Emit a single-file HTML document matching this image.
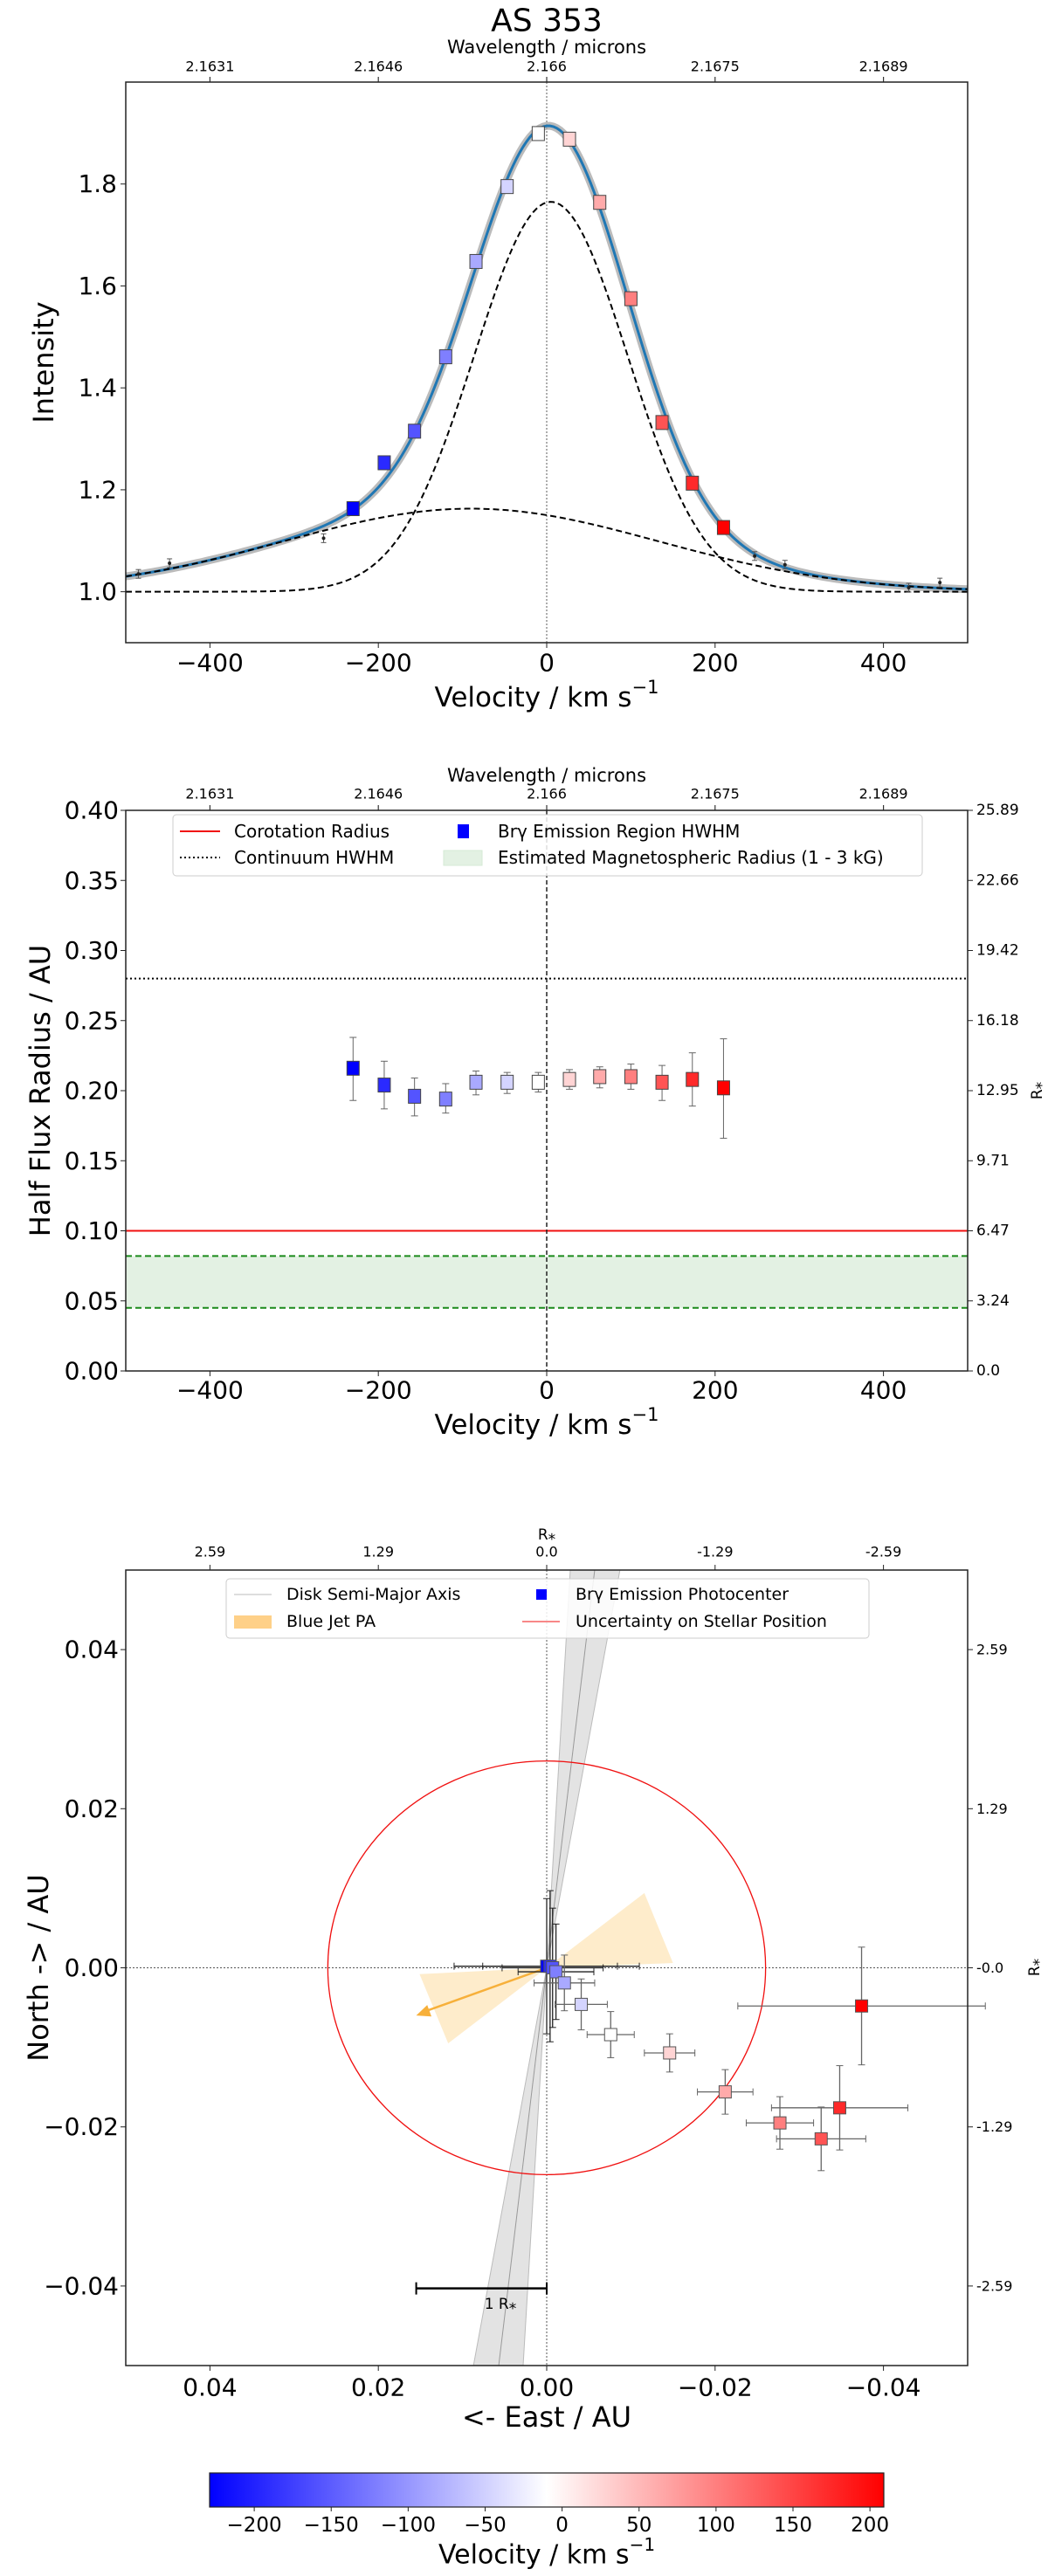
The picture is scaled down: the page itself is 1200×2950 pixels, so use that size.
<!DOCTYPE html>
<html><head><meta charset="utf-8"><title>AS 353</title>
<style>
html,body{margin:0;padding:0;background:#fff;}
svg{display:block;font-family:"DejaVu Sans","Liberation Sans",sans-serif;}
</style></head>
<body>
<svg id="fig" xmlns="http://www.w3.org/2000/svg" width="1200" height="2950" viewBox="0 0 1200 2950">
<rect x="0" y="0" width="1200" height="2950" fill="#fff"/>
</svg>
<script>
// ---------- DATA ----------
const velocities = [-230,-193,-157,-120,-84,-47,-10,27,63,100,137,173,210];
const intensities = [1.163,1.253,1.315,1.461,1.648,1.795,1.899,1.888,1.764,1.575,1.332,1.213,1.126];
const contVel = [-485,-448,-265,247,283,430,467];
const contInt = [1.035,1.056,1.105,1.070,1.053,1.008,1.018];
const narrowGauss = [0.765, 5, 91];      // amplitude, centre, sigma
const broadGauss = [0.163, -90, 223];
const hwhm = [0.216,0.204,0.196,0.194,0.206,0.206,0.206,0.208,0.210,0.210,0.206,0.208,0.202];
const hwhmLo = [0.193,0.187,0.182,0.184,0.197,0.198,0.199,0.201,0.202,0.201,0.193,0.189,0.166];
const hwhmHi = [0.238,0.221,0.209,0.205,0.214,0.213,0.213,0.215,0.217,0.219,0.218,0.227,0.237];
const continuumHWHM = [0.28];
const corotation = [0.10];
const magRadius = [0.045, 0.082];
const eastPos = [0.0,-0.0004,-0.0007,-0.0011,-0.0021,-0.0041,-0.0076,-0.0146,-0.0212,-0.0277,-0.0326,-0.0348,-0.0374];
const northPos = [0.0002,0.0002,0.0,-0.0005,-0.0019,-0.0046,-0.0084,-0.0107,-0.0156,-0.0195,-0.0215,-0.0176,-0.0048];
const eastErr = [0.011,0.008,0.006,0.0045,0.0036,0.0031,0.0028,0.003,0.0033,0.004,0.0053,0.0081,0.0147];
const northErr = [0.0085,0.0095,0.0075,0.006,0.0035,0.0032,0.0029,0.0024,0.0028,0.0033,0.004,0.0053,0.0074];
const stellarUncert = [0.026];
const topWaveTicks = ["2.1631","2.1646","2.166","2.1675","2.1689"];
const velTicks = [-400,-200,0,200,400];
const intTicks = [1.0,1.2,1.4,1.6,1.8];
const radTicks = [0,0.05,0.10,0.15,0.20,0.25,0.30,0.35,0.40];
const rstarTicks = ["0.0","3.24","6.47","9.71","12.95","16.18","19.42","22.66","25.89"];
const posTicks = [0.04,0.02,0.0,-0.02,-0.04];
const posTickLabels = ["0.04","0.02","0.00","\u22120.02","\u22120.04"];
const topRLabels = ["2.59","1.29","0.0","-1.29","-2.59"];
const rightRLabels = ["2.59","1.29","-0.0","-1.29","-2.59"];
const cbTicks = [-200,-150,-100,-50,0,50,100,150,200];
const cbRange = [-229, 209];

// ---------- HELPERS ----------
const NS="http://www.w3.org/2000/svg";
const svg=document.getElementById('fig');
function el(tag,attrs,parent){const e=document.createElementNS(NS,tag);for(const k in attrs)e.setAttribute(k,attrs[k]);(parent||svg).appendChild(e);return e;}
function txt(s,x,y,size,attrs,parent){const t=el('text',Object.assign({x:x,y:y,'font-size':size,'text-anchor':'middle','dominant-baseline':'central',fill:'#000'},attrs||{}),parent);t.textContent=s;return t;}
function cmap(v){let t=(v-cbRange[0])/(cbRange[1]-cbRange[0]);t=Math.max(0,Math.min(1,t));let r,g,b;if(t<0.5){r=g=Math.round(510*t);b=255;}else{r=255;g=b=Math.round(255*(2-2*t));}return `rgb(${r},${g},${b})`;}
const fmt=v=>(v<0?'\u2212':'')+Math.abs(v);

const AX_L=144, AX_R=1108;
const pxV=v=>AX_L+(v+500)*(AX_R-AX_L)/1000;

// ---------- PANEL 1 ----------
const T1=94, B1=736;
const py1=I=>B1-(I-0.9)*(B1-T1)/1.1;
const g1=el('g',{});  
let t=txt('AS 353',626,24,36,{},g1);  
t=txt('Wavelength / microns',626,54,21,{},g1);  
velTicks.forEach((v,i)=>{el('line',{x1:pxV(v),x2:pxV(v),y1:T1,y2:T1-6,stroke:'#333','stroke-width':1.2},g1);txt(topWaveTicks[i],pxV(v),76,16,{},g1);});
el('line',{x1:pxV(0),x2:pxV(0),y1:T1,y2:B1,stroke:'#777','stroke-width':1.2,'stroke-dasharray':'2,2'},g1);
function gauss(p,v){return p[0]*Math.exp(-(v-p[1])*(v-p[1])/(2*p[2]*p[2]));}
let dN='',dB='',dF='';
for(let v=-500;v<=500;v+=4){const x=pxV(v);dN+=(v===-500?'M':'L')+x+','+py1(1+gauss(narrowGauss,v));dB+=(v===-500?'M':'L')+x+','+py1(1+gauss(broadGauss,v));dF+=(v===-500?'M':'L')+x+','+py1(1+gauss(narrowGauss,v)+gauss(broadGauss,v));}
let p=el('path',{d:dF,fill:'none',stroke:'#aaa','stroke-width':9,'stroke-opacity':0.8},g1);  
p=el('path',{d:dF,fill:'none',stroke:'#1f77b4','stroke-width':3},g1);  
p=el('path',{d:dN,fill:'none',stroke:'#000','stroke-width':2,'stroke-dasharray':'7,4'},g1);  
p=el('path',{d:dB,fill:'none',stroke:'#000','stroke-width':2,'stroke-dasharray':'7,4'},g1);  
contVel.forEach((v,i)=>{const x=pxV(v),y=py1(contInt[i]);el('line',{x1:x,x2:x,y1:y-5,y2:y+5,stroke:'#555'},g1);el('line',{x1:x-3,x2:x+3,y1:y-5,y2:y-5,stroke:'#555'},g1);el('line',{x1:x-3,x2:x+3,y1:y+5,y2:y+5,stroke:'#555'},g1);const c=el('circle',{cx:x,cy:y,r:2,fill:'#222'},g1);});
velocities.forEach((v,i)=>{const x=pxV(v),y=py1(intensities[i]);el('line',{x1:x,x2:x,y1:y-8,y2:y+8,stroke:'#555'},g1);const r=el('rect',{x:x-7,y:y-8,width:14,height:16,fill:cmap(v),stroke:'#444','stroke-width':1},g1);});
el('rect',{x:AX_L,y:T1,width:AX_R-AX_L,height:B1-T1,fill:'none',stroke:'#222','stroke-width':1.5},g1);
velTicks.forEach(v=>{el('line',{x1:pxV(v),x2:pxV(v),y1:B1,y2:B1+6,stroke:'#222'},g1);txt(fmt(v),pxV(v),759,28,{},g1);});
intTicks.forEach(I=>{el('line',{x1:AX_L,x2:AX_L-6,y1:py1(I),y2:py1(I),stroke:'#222'},g1);txt(I.toFixed(1),AX_L-10,py1(I),28,{'text-anchor':'end'},g1);});
t=txt('Intensity',0,0,32,{transform:'translate(50,'+((T1+B1)/2)+') rotate(-90)'},g1);  
t=el('text',{x:626,y:799,'font-size':31,'text-anchor':'middle','dominant-baseline':'central'},g1); t.innerHTML='Velocity / km s<tspan dy="-12" font-size="21">\u22121</tspan>';  

// ---------- PANEL 2 ----------
const T2=928, B2=1570;
const py2=r=>B2-r*(B2-T2)/0.4;
const g2=el('g',{});  
t=txt('Wavelength / microns',626,888,21,{},g2);  
velTicks.forEach((v,i)=>{el('line',{x1:pxV(v),x2:pxV(v),y1:T2,y2:T2-6,stroke:'#333','stroke-width':1.2},g2);txt(topWaveTicks[i],pxV(v),909,16,{},g2);});
let r=el('rect',{x:AX_L,y:py2(magRadius[1]),width:AX_R-AX_L,height:py2(magRadius[0])-py2(magRadius[1]),fill:'#e3f1e3'},g2);  
magRadius.forEach(m=>el('line',{x1:AX_L,x2:AX_R,y1:py2(m),y2:py2(m),stroke:'#1a8a1a','stroke-width':2,'stroke-dasharray':'7,4'},g2));
let l=el('line',{x1:AX_L,x2:AX_R,y1:py2(corotation[0]),y2:py2(corotation[0]),stroke:'#f01010','stroke-width':2},g2);  
l=el('line',{x1:AX_L,x2:AX_R,y1:py2(continuumHWHM[0]),y2:py2(continuumHWHM[0]),stroke:'#000','stroke-width':2,'stroke-dasharray':'2,3'},g2);  
el('line',{x1:pxV(0),x2:pxV(0),y1:T2,y2:B2,stroke:'#222','stroke-width':1.5,'stroke-dasharray':'5,3'},g2);
velocities.forEach((v,i)=>{const x=pxV(v);el('line',{x1:x,x2:x,y1:py2(hwhmHi[i]),y2:py2(hwhmLo[i]),stroke:'#666'},g2);[hwhmHi[i],hwhmLo[i]].forEach(q=>el('line',{x1:x-4,x2:x+4,y1:py2(q),y2:py2(q),stroke:'#666'},g2));const rr=el('rect',{x:x-7,y:py2(hwhm[i])-8,width:14,height:16,fill:cmap(v),stroke:'#444'},g2);});
el('rect',{x:AX_L,y:T2,width:AX_R-AX_L,height:B2-T2,fill:'none',stroke:'#222','stroke-width':1.5},g2);
velTicks.forEach(v=>{el('line',{x1:pxV(v),x2:pxV(v),y1:B2,y2:B2+6,stroke:'#222'},g2);txt(fmt(v),pxV(v),1592,28,{},g2);});
radTicks.forEach((q,i)=>{el('line',{x1:AX_L,x2:AX_L-6,y1:py2(q),y2:py2(q),stroke:'#222'},g2);txt(q.toFixed(2),AX_L-8,py2(q),28,{'text-anchor':'end'},g2);el('line',{x1:AX_R,x2:AX_R+6,y1:py2(q),y2:py2(q),stroke:'#222'},g2);txt(rstarTicks[i],AX_R+10,py2(q),17,{'text-anchor':'start'},g2);});
t=txt('R\u204E',1188,1249,17,{transform:'rotate(-90 1188 1249)'},g2);  
t=txt('Half Flux Radius / AU',0,0,32,{transform:'translate(46,'+((T2+B2)/2)+') rotate(-90)'},g2);  
t=el('text',{x:626,y:1632,'font-size':31,'text-anchor':'middle','dominant-baseline':'central'},g2); t.innerHTML='Velocity / km s<tspan dy="-12" font-size="21">\u22121</tspan>';  
const lg2=el('g',{},g2);  
el('rect',{x:198,y:933,width:858,height:70,rx:4,fill:'#fff','fill-opacity':0.85,stroke:'#ccc'},lg2);
el('line',{x1:206,x2:252,y1:952,y2:952,stroke:'#f01010','stroke-width':2},lg2); txt('Corotation Radius',268,952,20,{'text-anchor':'start'},lg2);
el('line',{x1:206,x2:252,y1:982,y2:982,stroke:'#000','stroke-width':2,'stroke-dasharray':'2,3'},lg2); txt('Continuum HWHM',268,982,20,{'text-anchor':'start'},lg2);
el('rect',{x:524,y:944,width:13,height:16,fill:'#0000ff'},lg2); txt('Br\u03b3 Emission Region HWHM',570,952,20,{'text-anchor':'start'},lg2);
el('rect',{x:508,y:974,width:44,height:17,fill:'#e3f1e3',stroke:'#d4ead4'},lg2); txt('Estimated Magnetospheric Radius (1 - 3 kG)',570,982,20,{'text-anchor':'start'},lg2);

// ---------- PANEL 3 ----------
const T3=1798, B3=2709, C3=2253.5;
const px3=x=>626-x*9640;
const py3=y=>C3-y*9110;
const g3=el('g',{});  
el('line',{x1:AX_L,x2:AX_R,y1:py3(0),y2:py3(0),stroke:'#555','stroke-width':1,'stroke-dasharray':'2,2'},g3);
el('line',{x1:px3(0),x2:px3(0),y1:T3,y2:B3,stroke:'#555','stroke-width':1,'stroke-dasharray':'2,2'},g3);
let d=el('polygon',{points:[[px3(-0.0028),py3(0.05)],[px3(-0.0087),py3(0.05)],[px3(0),py3(0)],[px3(0.0087),py3(-0.05)],[px3(0.0028),py3(-0.05)],[px3(0),py3(0)]].map(a=>a.join(',')).join(' '),fill:'#ccc','fill-opacity':0.55,stroke:'#bbb','stroke-width':1},g3);  
l=el('line',{x1:px3(-0.0057),y1:py3(0.05),x2:px3(0.0057),y2:py3(-0.05),stroke:'#999','stroke-width':1},g3);  
d=el('polygon',{points:[[px3(0),py3(0)],[px3(0.0151),py3(-0.0008)],[px3(0.0117),py3(-0.0095)]].map(a=>a.join(',')).join(' '),fill:'#fdd998','fill-opacity':0.5},g3);  
d=el('polygon',{points:[[px3(0),py3(0)],[px3(-0.0116),py3(0.0094)],[px3(-0.015),py3(0.0006)]].map(a=>a.join(',')).join(' '),fill:'#fdd998','fill-opacity':0.5},g3);  
l=el('line',{x1:px3(0),y1:py3(0),x2:px3(0.0145),y2:py3(-0.0055),stroke:'#f7b03a','stroke-width':2.5},g3);  
(function(){const x2=px3(0.0155),y2=py3(-0.006),x1=px3(0),y1=py3(0);const a=Math.atan2(y2-y1,x2-x1);const L=16,W=7;const bx=x2-L*Math.cos(a),by=y2-L*Math.sin(a);el('polygon',{points:`${x2},${y2} ${bx+W*Math.sin(a)},${by-W*Math.cos(a)} ${bx-W*Math.sin(a)},${by+W*Math.cos(a)}`,fill:'#f7b03a'},g3);})();
const rx=stellarUncert[0]*9640, ry=stellarUncert[0]*9110;
let e=el('ellipse',{cx:px3(0),cy:py3(0),rx:rx,ry:ry,fill:'none',stroke:'#f01010','stroke-width':1.3},g3);  
velocities.forEach((v,i)=>{const x=px3(eastPos[i]),y=py3(northPos[i]);const col=i<4?'#222':'#666';const x1=px3(eastPos[i]+eastErr[i]),x2=px3(eastPos[i]-eastErr[i]),y1=py3(northPos[i]+northErr[i]),y2=py3(northPos[i]-northErr[i]);el('line',{x1:x1,x2:x2,y1:y,y2:y,stroke:col,'stroke-width':1.3},g3);el('line',{x1:x,x2:x,y1:y1,y2:y2,stroke:col,'stroke-width':1.3},g3);[x1,x2].forEach(q=>el('line',{x1:q,x2:q,y1:y-4,y2:y+4,stroke:col},g3));[y1,y2].forEach(q=>el('line',{x1:x-4,x2:x+4,y1:q,y2:q,stroke:col},g3));});
velocities.forEach((v,i)=>{const x=px3(eastPos[i]),y=py3(northPos[i]);const rr=el('rect',{x:x-7,y:y-7,width:14,height:14,fill:cmap(v),stroke:'#555'},g3);});
const sb=el('g',{},g3);  
el('line',{x1:px3(0.0155),x2:px3(0),y1:py3(-0.0403),y2:py3(-0.0403),stroke:'#000','stroke-width':2.5},sb);
[0.0155,0].forEach(q=>el('line',{x1:px3(q),x2:px3(q),y1:py3(-0.0403)-7,y2:py3(-0.0403)+7,stroke:'#000','stroke-width':2},sb));
txt('1 R\u204E',px3(0.0055),py3(-0.0423),17,{},sb);
el('rect',{x:AX_L,y:T3,width:AX_R-AX_L,height:B3-T3,fill:'none',stroke:'#222','stroke-width':1.5},g3);
posTicks.forEach((q,i)=>{el('line',{x1:px3(q),x2:px3(q),y1:B3,y2:B3+6,stroke:'#222'},g3);txt(posTickLabels[i],px3(q),2734,28,{},g3);el('line',{x1:px3(q),x2:px3(q),y1:T3,y2:T3-6,stroke:'#222'},g3);txt(topRLabels[i],px3(q),1777,16,{},g3);el('line',{x1:AX_L,x2:AX_L-6,y1:py3(q),y2:py3(q),stroke:'#222'},g3);txt(posTickLabels[i],AX_L-8,py3(q),28,{'text-anchor':'end'},g3);el('line',{x1:AX_R,x2:AX_R+6,y1:py3(q),y2:py3(q),stroke:'#222'},g3);txt(rightRLabels[i],AX_R+10,py3(q),16,{'text-anchor':'start'},g3);});
txt('R\u204E',626,1758,17,{},g3);
t=txt('R\u204E',1185,2253,17,{transform:'rotate(-90 1185 2253)'},g3);  
t=txt('North -> / AU',0,0,32,{transform:'translate(44,'+C3+') rotate(-90)'},g3);  
t=txt('<- East  / AU',626,2768,32,{'xml:space':'preserve'},g3);  
const lg3=el('g',{},g3);  
el('rect',{x:259,y:1808,width:736,height:68,rx:4,fill:'#fff','fill-opacity':0.85,stroke:'#ccc'},lg3);
el('line',{x1:268,x2:311,y1:1826,y2:1826,stroke:'#bbb','stroke-width':1},lg3); txt('Disk Semi-Major Axis',328,1826,19,{'text-anchor':'start'},lg3);
el('rect',{x:268,y:1850,width:43,height:15,fill:'#fdc060','fill-opacity':0.75},lg3); txt('Blue Jet PA',328,1857,19,{'text-anchor':'start'},lg3);
el('rect',{x:614,y:1820,width:12,height:12,fill:'#0000ff'},lg3); txt('Br\u03b3 Emission Photocenter',659,1826,19,{'text-anchor':'start'},lg3);
el('line',{x1:598,x2:641,y1:1857,y2:1857,stroke:'#f01010','stroke-width':1},lg3); txt('Uncertainty on Stellar Position',659,1857,19,{'text-anchor':'start'},lg3);

// ---------- COLORBAR ----------
const CBL=240, CBR=1012, CBT=2832, CBB=2871;
const pxC=v=>CBL+(v-cbRange[0])*(CBR-CBL)/(cbRange[1]-cbRange[0]);
const gc=el('g',{});  
const defs=el('defs',{},gc);const grad=el('linearGradient',{id:'bwr',x1:0,x2:1,y1:0,y2:0},defs);
for(let k=0;k<=10;k++){const v=cbRange[0]+k/10*(cbRange[1]-cbRange[0]);el('stop',{offset:k/10,'stop-color':cmap(v)},grad);}
el('rect',{x:CBL,y:CBT,width:CBR-CBL,height:CBB-CBT,fill:'url(#bwr)',stroke:'#222','stroke-width':1.2},gc);
cbTicks.forEach(v=>{el('line',{x1:pxC(v),x2:pxC(v),y1:CBB,y2:CBB+5,stroke:'#222'},gc);txt(fmt(v),pxC(v),2892,23,{},gc);});
t=el('text',{x:626,y:2926,'font-size':30,'text-anchor':'middle','dominant-baseline':'central'},gc); t.innerHTML='Velocity / km s<tspan dy="-12" font-size="20">\u22121</tspan>';  
</script>
</body></html>
